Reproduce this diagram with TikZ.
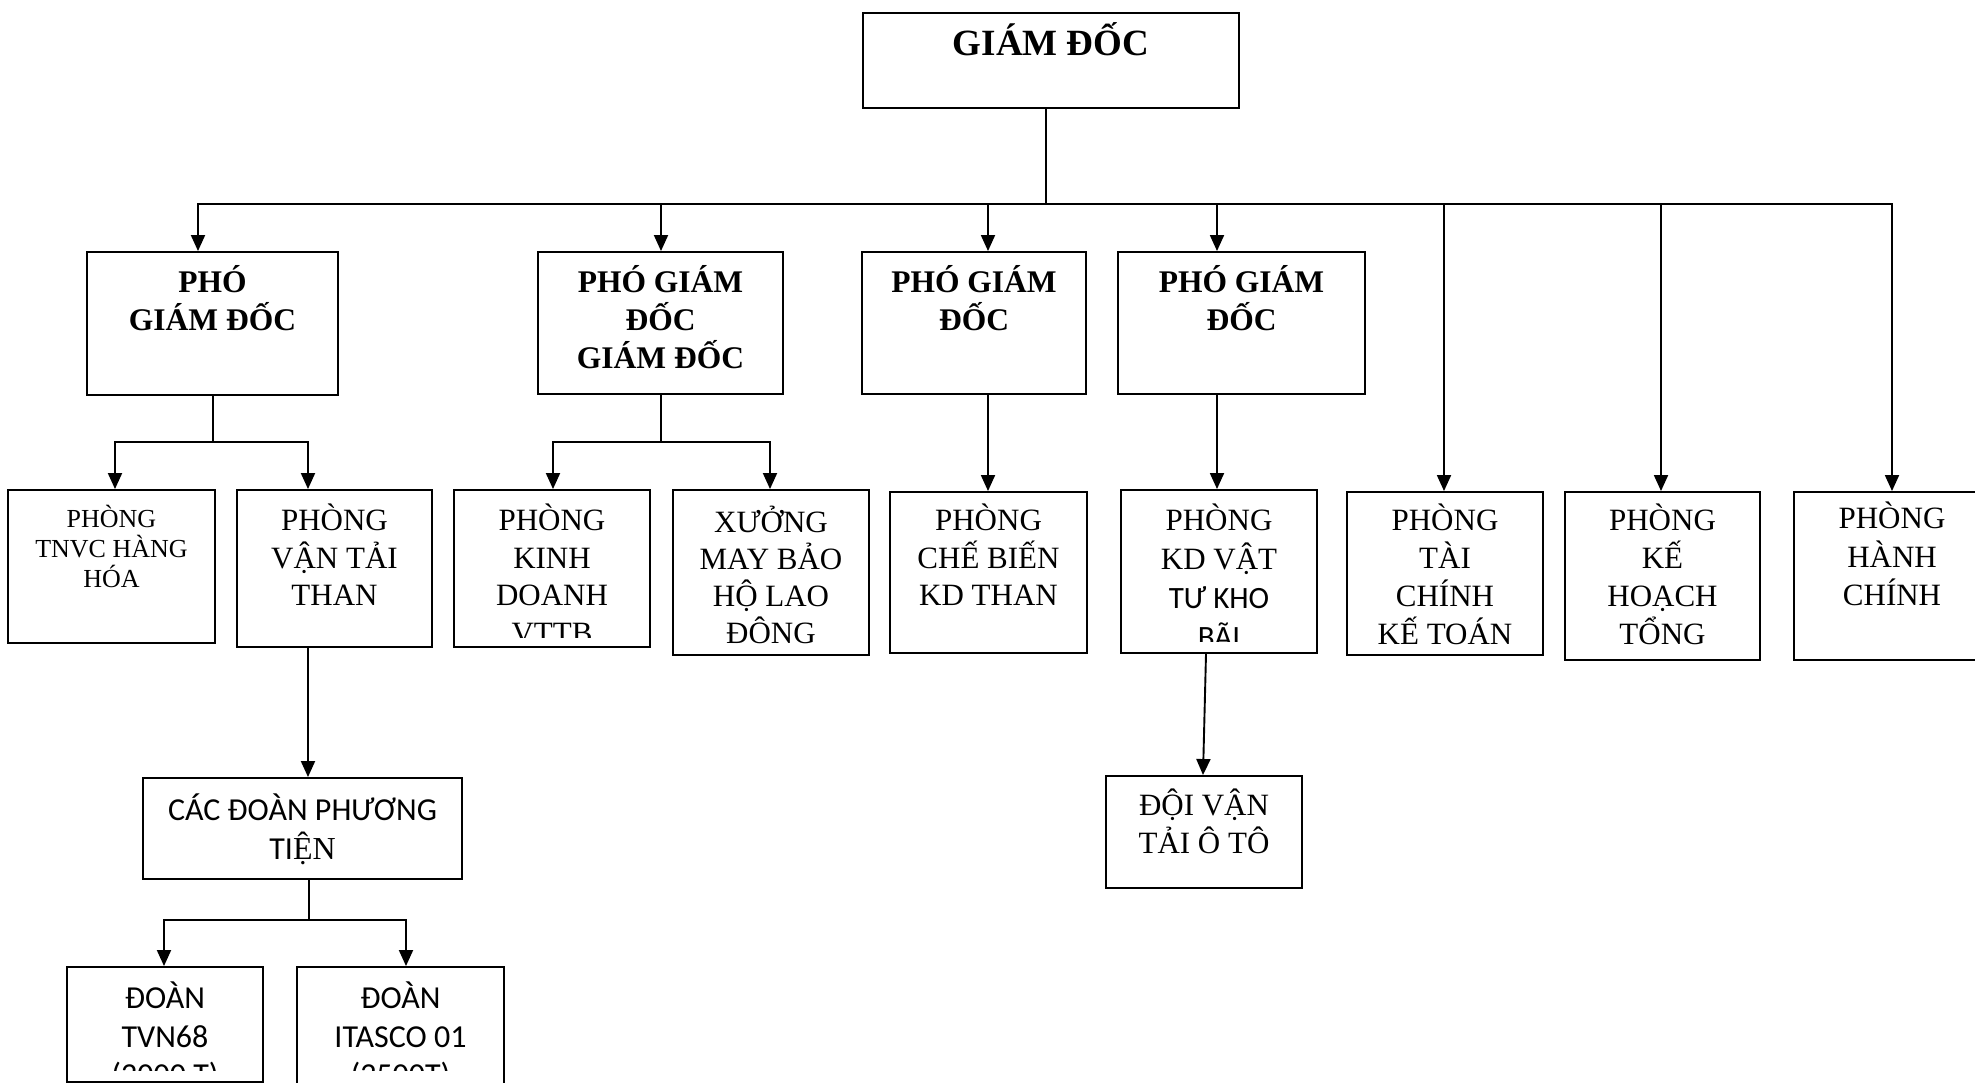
\documentclass[tikz,border=0pt]{standalone}
\usepackage{fontspec}
\setmainfont{Liberation Serif}
\newfontfamily\calib{Carlito}
\usetikzlibrary{arrows.meta}

% text inside a box: #1 first baseline below the top, #2 bottom clip inset,
% #3 font, #4 lines
\newcommand\inbox[4]{%
  \clip ([yshift=#2]path picture bounding box.south west) rectangle (path picture bounding box.north east);
  \node[anchor=north, draw=none, inner sep=0pt, minimum width=0pt, minimum height=0pt,
        align=center, font=#3]
    at ([yshift={40pt-#1}]path picture bounding box.north) {\rule{0pt}{40pt}#4};}

% box given by name, left, top, right, bottom, contents
\newcommand\orgbox[6]{%
  \node[box, minimum width={#4-#2}, minimum height={#5-#3}, path picture={#6}]
    (#1) at ({(#2+#4)/2},{(#3+#5)/2}) {};}

\newcommand\rmA{\fontsize{31}{37.5}\selectfont}
\newcommand\bfA{\bfseries\fontsize{31.5}{38}\selectfont}
\newcommand\sfA{\calib\fontsize{32}{38.5}\selectfont}

\begin{document}
\begin{tikzpicture}[x=1pt, y=-1pt,
  box/.style={draw, line width=1.9pt, inner sep=0pt},
  link/.style={line width=1.9pt},
  arr/.style={link, -{Triangle[width=14pt,length=16pt]}}]
\path[use as bounding box, clip] (0,0) rectangle (1975,1083);
\fill[white] (0,0) rectangle (1975,1083);

% top
\orgbox{gd}{863}{13}{1239}{108}{\inbox{42pt}{0pt}{\bfseries\fontsize{37}{44}\selectfont}{GIÁM ĐỐC}}

% deputies
\orgbox{pgd1}{87}{252}{338}{395}{\inbox{40pt}{0pt}{\bfA}{PHÓ\\GIÁM ĐỐC}}
\orgbox{pgd2}{538}{252}{783}{394}{\inbox{40pt}{0pt}{\bfA}{PHÓ GIÁM\\ĐỐC\\GIÁM ĐỐC}}
\orgbox{pgd3}{862}{252}{1086}{394}{\inbox{40pt}{0pt}{\bfA}{PHÓ GIÁM\\ĐỐC}}
\orgbox{pgd4}{1118}{252}{1365}{394}{\inbox{40pt}{0pt}{\bfA}{PHÓ GIÁM\\ĐỐC}}

% departments
\orgbox{tnvc}{8}{490}{215}{643}{\inbox{37pt}{0pt}{\fontsize{26}{30}\selectfont}{PHÒNG\\TNVC HÀNG\\HÓA}}
\orgbox{vtt}{237}{490}{432}{647}{\inbox{40pt}{0pt}{\rmA}{PHÒNG\\VẬN TẢI\\THAN}}
\orgbox{kd}{454}{490}{650}{647}{\inbox{40pt}{10pt}{\rmA}{PHÒNG\\KINH\\DOANH\\VTTB}}
\orgbox{xuong}{673}{490}{869}{655}{\inbox{42pt}{12pt}{\fontsize{31}{37}\selectfont}{XƯỞNG\\MAY BẢO\\HỘ LAO\\ĐỘNG}}
\orgbox{cb}{890}{492}{1087}{653}{\inbox{38pt}{0pt}{\rmA}{PHÒNG\\CHẾ BIẾN\\KD THAN}}
\orgbox{kdvt}{1121}{490}{1317}{653}{\inbox{40pt}{12pt}{\fontsize{31}{39}\selectfont}{PHÒNG\\KD VẬT\\{\calib TƯ KHO}\\{\calib BÃI}}}
\orgbox{tc}{1347}{492}{1543}{655}{\inbox{38pt}{0pt}{\fontsize{31}{37.7}\selectfont}{PHÒNG\\TÀI\\CHÍNH\\KẾ TOÁN}}
\orgbox{kh}{1565}{492}{1760}{660}{\inbox{38pt}{0pt}{\fontsize{31}{37.7}\selectfont}{PHÒNG\\KẾ\\HOẠCH\\TỔNG}}
\orgbox{hc}{1794}{492}{1990}{660}{\inbox{36pt}{0pt}{\fontsize{31}{38.5}\selectfont}{PHÒNG\\HÀNH\\CHÍNH}}

% lower units
\orgbox{dvt}{1106}{776}{1302}{888}{\inbox{39pt}{0pt}{\fontsize{31}{38}\selectfont}{ĐỘI VẬN\\TẢI Ô TÔ}}
\orgbox{cdpt}{143}{778}{462}{879}{\inbox{42pt}{0pt}{\sfA}{CÁC ĐOÀN PHƯƠNG\\TI{\rmfamily ỆN}}}
\orgbox{tvn}{67}{967}{263}{1082}{\inbox{41pt}{12pt}{\sfA}{ĐOÀN\\TVN68\\(2000 T)}}
\orgbox{ita}{297}{967}{504}{1110}{\inbox{41pt}{40pt}{\sfA}{ĐOÀN\\ITASCO 01\\(2500T)}}

% main bus
\coordinate (bc) at (1046,204);
\coordinate (b1) at (198,204);
\coordinate (b2) at (661,204);
\coordinate (b3) at (988,204);
\coordinate (b4) at (1217,204);
\coordinate (b5) at (1444,204);
\coordinate (b6) at (1661,204);
\coordinate (b7) at (1892,204);
\draw[link] (gd.south -| bc) -- (bc);
\draw[arr] (bc) -- (b1) -- (b1 |- pgd1.north);
\draw[arr] (bc) -- (b7) -- (b7 |- hc.north);
\foreach \b/\t in {b2/pgd2, b3/pgd3, b4/pgd4, b5/tc, b6/kh}
  \draw[arr] (\b) -- (\b |- \t.north);

% first deputy
\coordinate (s1) at (213,442);
\coordinate (s1a) at (115,442);
\coordinate (s1b) at (308,442);
\draw[link] (pgd1.south -| s1) -- (s1);
\draw[arr] (s1) -- (s1a) -- (s1a |- tnvc.north);
\draw[arr] (s1) -- (s1b) -- (s1b |- vtt.north);

% second deputy
\coordinate (s2) at (661,442);
\coordinate (s2a) at (553,442);
\coordinate (s2b) at (770,442);
\draw[link] (pgd2.south -| s2) -- (s2);
\draw[arr] (s2) -- (s2a) -- (s2a |- kd.north);
\draw[arr] (s2) -- (s2b) -- (s2b |- xuong.north);

% third and fourth deputies
\draw[arr] (pgd3.south -| b3) -- (b3 |- cb.north);
\draw[arr] (pgd4.south -| b4) -- (b4 |- kdvt.north);
\draw[arr] ([xshift=-13pt]kdvt.south) -- ([xshift=-1pt]dvt.north);

% transport fleet
\coordinate (v) at (308,700);
\draw[arr] (vtt.south -| v) -- (cdpt.north -| v);
\coordinate (s3) at (309,920);
\coordinate (s3a) at (164,920);
\coordinate (s3b) at (406,920);
\draw[link] (cdpt.south -| s3) -- (s3);
\draw[arr] (s3) -- (s3a) -- (s3a |- tvn.north);
\draw[arr] (s3) -- (s3b) -- (s3b |- ita.north);
\end{tikzpicture}
\end{document}
